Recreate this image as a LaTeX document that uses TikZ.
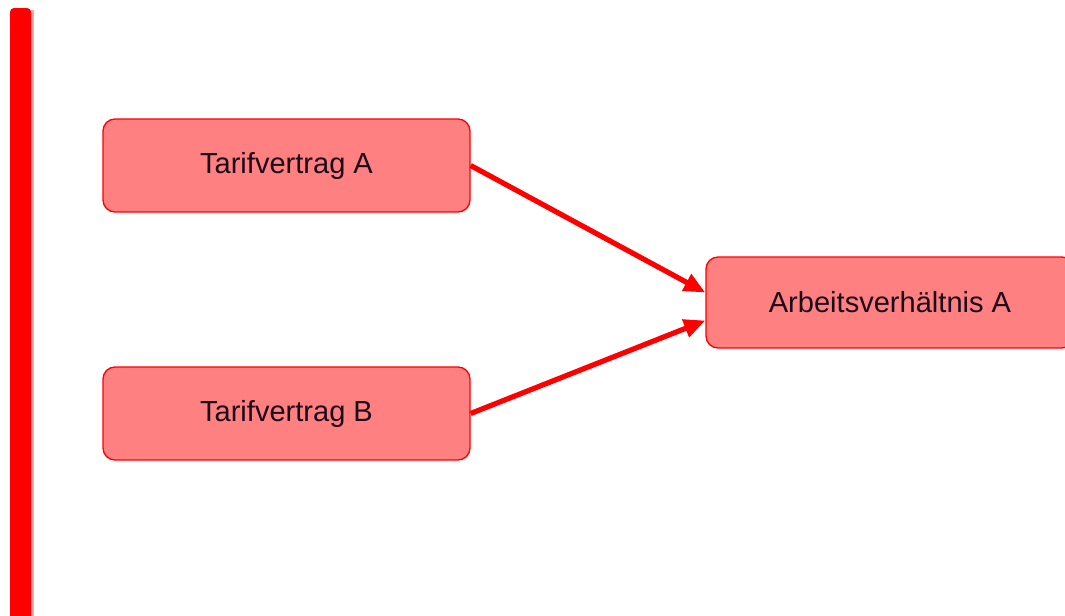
\documentclass[tikz,border=0pt]{standalone}
\usepackage{fontspec}
\setmainfont{Liberation Sans}
\usetikzlibrary{arrows.meta}
\definecolor{boxfill}{HTML}{FF8080}
\definecolor{textc}{HTML}{1A0A1A}
\tikzset{
  box/.style={draw=red, line width=1pt, fill=boxfill, rounded corners=9pt,
    minimum width=275.25pt, minimum height=69.75pt, inner sep=0pt,
    font=\fontsize{21.8}{26}\selectfont, text=textc},
  conn/.style={draw=red, line width=3.9pt, -{Triangle[length=16pt,width=13.5pt]}}
}
\begin{document}
\begin{tikzpicture}[x=0.75pt,y=-0.75pt]
\useasboundingbox (0,0) rectangle (1065,615);
\fill[red!35] (12,10) rectangle (34,630);
\fill[red, rounded corners=3pt] (10,8) rectangle (31,640);
\node[box] (ta) at (286.5,165.5) {Tarifvertrag A};
\node[box] (tb) at (286.5,413.5) {Tarifvertrag B};
\node[box, minimum width=276pt, minimum height=68.25pt] (ar) at (890,302.5) {Arbeitsverhältnis A};
\draw[conn] (ta.east) -- ([yshift=7.5pt]ar.west);
\draw[conn] (tb.east) -- ([yshift=-13.5pt]ar.west);
\end{tikzpicture}
\end{document}
